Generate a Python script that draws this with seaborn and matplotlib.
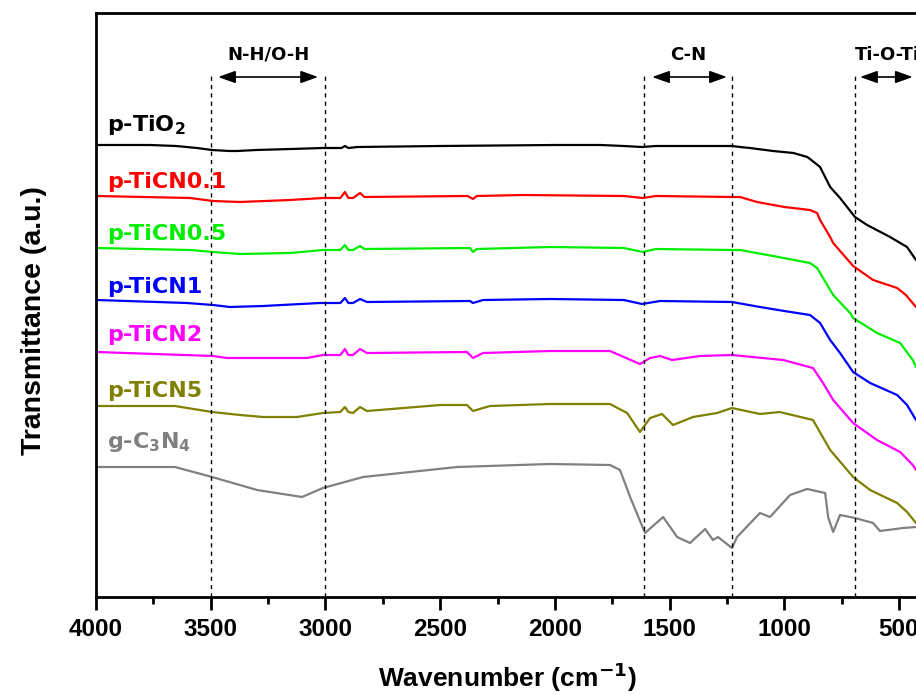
import matplotlib.pyplot as plt
import matplotlib.ticker as mticker
import pandas as pd
import seaborn as sns

# Spectra (wavenumber in cm-1, transmittance in a.u., curves already offset)
tio2_wn = [3996, 3765, 3650, 3560, 3494, 3420, 3385, 3300, 3150, 3011, 2930, 2915, 2900, 2860, 2500,
           2000, 1800, 1700, 1620, 1560, 1400, 1228, 1193, 1150, 1049, 960, 900, 888, 844, 800, 757,
           692, 639, 539, 465, 426]
tio2_t = [452, 452, 451, 449, 447, 446, 446, 447, 448, 449, 449, 451, 449, 450, 451,
          452, 452, 451, 450, 451, 451, 451, 450, 449, 446, 444, 440, 438, 430, 410, 399,
          380, 372, 360, 350, 337]

ticn01_wn = [3996, 3590, 3490, 3372, 3154, 3011, 2935, 2915, 2900, 2880, 2849, 2830, 2380, 2357, 2340,
             2139, 1700, 1616, 1560, 1228, 1193, 1119, 1000, 888, 857, 844, 800, 787, 700, 613, 508,
             470, 426]
ticn01_t = [401, 399, 396, 395, 397, 399, 399, 405, 399, 399, 404, 400, 401, 398, 401,
            402, 401, 399, 401, 400, 400, 395, 390, 387, 384, 377, 360, 354, 331, 317, 309,
            302, 290]

ticn05_wn = [3996, 3590, 3490, 3372, 3154, 3011, 2935, 2915, 2900, 2880, 2849, 2830, 2370, 2357, 2340,
             2021, 1700, 1616, 1560, 1228, 1193, 1049, 888, 857, 844, 787, 713, 700, 596, 495, 440, 426]
ticn05_t = [349, 347, 345, 343, 344, 347, 347, 352, 347, 347, 351, 348, 349, 345, 348,
            350, 349, 345, 348, 347, 347, 341, 334, 329, 324, 302, 284, 279, 264, 254, 237, 230]

ticn1_wn = [3996, 3603, 3490, 3416, 3272, 3024, 2935, 2915, 2900, 2880, 2849, 2819, 2370, 2357, 2313,
            2021, 1700, 1620, 1542, 1228, 1106, 1000, 888, 844, 800, 757, 700, 626, 508, 465, 426]
ticn1_t = [297, 294, 292, 290, 291, 294, 294, 299, 294, 294, 298, 295, 296, 294, 297,
           298, 297, 293, 296, 295, 290, 286, 282, 274, 257, 244, 225, 214, 202, 192, 177]

ticn2_wn = [3996, 3490, 3429, 3080, 3011, 2935, 2915, 2900, 2880, 2849, 2819, 2383, 2357, 2313, 2021,
            1760, 1629, 1585, 1542, 1489, 1367, 1228, 1005, 875, 831, 787, 700, 596, 495, 440, 426]
ticn2_t = [245, 241, 239, 239, 242, 242, 248, 242, 242, 248, 244, 245, 239, 244, 246,
           246, 233, 239, 241, 237, 241, 242, 237, 229, 214, 197, 174, 157, 145, 132, 127]

ticn5_wn = [3996, 3656, 3494, 3372, 3272, 3124, 3011, 2935, 2915, 2900, 2880, 2849, 2819, 2500, 2383,
            2357, 2283, 2021, 1760, 1685, 1629, 1585, 1533, 1485, 1398, 1293, 1228, 1106, 1020, 875,
            800, 700, 626, 508, 465, 426]
ticn5_t = [191, 191, 185, 182, 180, 180, 184, 185, 190, 185, 184, 190, 186, 192, 192,
           186, 191, 193, 193, 184, 165, 179, 183, 172, 180, 184, 189, 183, 185, 177,
           147, 120, 107, 94, 85, 74]

gcn_wn = [3996, 3656, 3494, 3298, 3102, 3011, 2836, 2426, 2021, 1760, 1716, 1672, 1607, 1528, 1467,
          1411, 1345, 1311, 1289, 1228, 1206, 1106, 1062, 975, 901, 822, 809, 787, 757, 692, 613,
          583, 482, 426]
gcn_t = [130, 130, 120, 107, 100, 109, 120, 130, 133, 132, 127, 100, 64, 80, 60,
         54, 68, 57, 60, 49, 60, 84, 80, 102, 108, 104, 80, 65, 82, 79, 74,
         66, 69, 70]

samples = ['p-TiO2', 'p-TiCN0.1', 'p-TiCN0.5', 'p-TiCN1', 'p-TiCN2', 'p-TiCN5', 'g-C3N4']
labels = ['p-TiO$_\\mathbf{2}$', 'p-TiCN0.1', 'p-TiCN0.5', 'p-TiCN1', 'p-TiCN2', 'p-TiCN5',
          'g-C$_\\mathbf{3}$N$_\\mathbf{4}$']
label_t = [466, 409, 357, 304, 256, 200, 149]
colours = {'p-TiO2': 'black', 'p-TiCN0.1': '#ff0000', 'p-TiCN0.5': '#00ee00', 'p-TiCN1': '#0000ff',
           'p-TiCN2': '#ff00ff', 'p-TiCN5': '#808000', 'g-C3N4': '#808080'}

# Band regions marked with dashed lines and arrows
band_edges = [3500, 3000, 1610, 1228, 690]
band_names = ['N-H/O-H', 'C-N', 'Ti-O-Ti']
band_arrows = [(3468, 3032), (1576, 1250), (670, 440)]
band_text_x = [3250, 1419, 692]

spectra = [(tio2_wn, tio2_t), (ticn01_wn, ticn01_t), (ticn05_wn, ticn05_t), (ticn1_wn, ticn1_t),
           (ticn2_wn, ticn2_t), (ticn5_wn, ticn5_t), (gcn_wn, gcn_t)]
df = pd.concat([pd.DataFrame({'wavenumber': wn, 'transmittance': t, 'sample': name})
                for name, (wn, t) in zip(samples, spectra)], ignore_index=True)

sns.set_theme(style='ticks')
plt.rcParams['font.family'] = ['Liberation Sans', 'DejaVu Sans']
plt.rcParams['mathtext.fontset'] = 'dejavusans'
plt.rcParams['text.color'] = 'black'
plt.rcParams['axes.labelcolor'] = 'black'
plt.rcParams['xtick.color'] = 'black'
plt.rcParams['xtick.labelcolor'] = 'black'

fig = plt.figure(figsize=(9.16, 6.95), dpi=100)
ax = fig.add_axes([0.1048, 0.141, 0.9017, 0.8403])

sns.lineplot(data=df, x='wavenumber', y='transmittance', hue='sample', palette=colours,
             estimator=None, legend=False, linewidth=1.6, ax=ax)

ax.set_xlim(4000, 400)
ax.set_ylim(0, 584)

# Dashed band edges and arrows
for edge in band_edges:
    ax.plot([edge, edge], [0, 525], color='black', linewidth=1.0, linestyle=(0, (3, 3)))
for name, (x0, x1), tx in zip(band_names, band_arrows, band_text_x):
    ax.annotate('', xy=(x1, 520), xytext=(x0, 520),
                arrowprops=dict(arrowstyle='<|-|>,head_length=0.7,head_width=0.25', color='black',
                                lw=1.2, shrinkA=0, shrinkB=0, mutation_scale=15))
    ax.text(tx, 542, name, ha='left' if name == 'Ti-O-Ti' else 'center', va='center',
            fontsize=13, fontweight='bold', family='DejaVu Sans', color='black')

# Curve labels
for name, text, ty in zip(samples, labels, label_t):
    ax.text(3952, ty, text, color=colours[name], fontsize=16, fontweight='bold',
            family='DejaVu Sans', va='baseline', ha='left')

# Axes formatting
ax.set_yticks([])
ax.xaxis.set_major_locator(mticker.MultipleLocator(500))
ax.xaxis.set_minor_locator(mticker.MultipleLocator(250))
ax.tick_params(axis='x', which='major', direction='out', length=9, width=2, pad=6,
               labelsize=17.5, colors='black')
ax.tick_params(axis='x', which='minor', direction='out', length=5, width=2, colors='black')
for label in ax.get_xticklabels():
    label.set_fontweight('bold')
for side in ['left', 'bottom', 'top', 'right']:
    ax.spines[side].set_linewidth(2.0)
    ax.spines[side].set_color('black')

ax.set_xlabel('Wavenumber (cm$^{\\mathbf{-1}}$)', fontsize=19, fontweight='bold', color='black')
ax.xaxis.set_label_coords(0.4976, -0.108)
ax.set_ylabel('Transmittance (a.u.)', fontsize=20.5, fontweight='bold', color='black')
ax.yaxis.set_label_coords(-0.0593, 0.474)

fig.savefig('out.png', dpi=100)
